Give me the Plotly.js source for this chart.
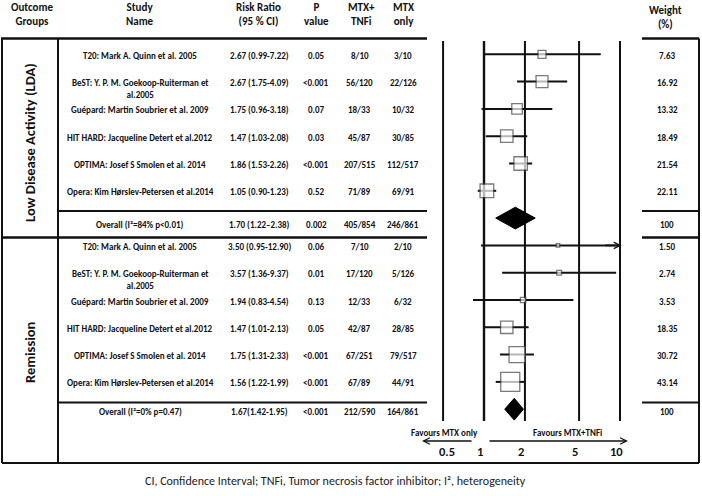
<!DOCTYPE html>
<html><head><meta charset="utf-8">
<script src="https://cdn.plot.ly/plotly-3.0.1.min.js"></script>
<style>html,body{margin:0;padding:0;background:#fff}#chart{width:702px;height:496px}</style>
</head><body><div id="chart"></div>
<script>
// ---------------- DATA ----------------
const groupNames = ["Low Disease Activity (LDA)", "Remission"];
const studyNames = [
  "T20: Mark A. Quinn et al. 2005",
  "BeST: Y. P. M. Goekoop-Ruiterman et<br>al.2005",
  "Guépard: Martin Soubrier et al. 2009",
  "HIT HARD: Jacqueline Detert et al.2012",
  "OPTIMA: Josef S Smolen et al. 2014",
  "Opera: Kim Hørslev-Petersen et al.2014"
];
// Low disease activity
const ldaRR = [2.67, 2.67, 1.75, 1.47, 1.86, 1.05];
const ldaLo = [0.99, 1.75, 0.96, 1.03, 1.53, 0.90];
const ldaHi = [7.22, 4.09, 3.18, 2.08, 2.26, 1.23];
const ldaRRText = ["2.67 (0.99-7.22)", "2.67 (1.75-4.09)", "1.75 (0.96-3.18)", "1.47 (1.03-2.08)", "1.86 (1.53-2.26)", "1.05 (0.90-1.23)"];
const ldaP = ["0.05", "&lt;0.001", "0.07", "0.03", "&lt;0.001", "0.52"];
const ldaTNF = ["8/10", "56/120", "18/33", "45/87", "207/515", "71/89"];
const ldaMTX = ["3/10", "22/126", "10/32", "30/85", "112/517", "69/91"];
const ldaWeight = [7.63, 16.92, 13.32, 18.49, 21.54, 22.11];
// Remission
const remRR = [3.50, 3.57, 1.94, 1.47, 1.75, 1.56];
const remLo = [0.95, 1.36, 0.83, 1.01, 1.31, 1.22];
const remHi = [12.90, 9.37, 4.54, 2.13, 2.33, 1.99];
const remRRText = ["3.50 (0.95-12.90)", "3.57 (1.36-9.37)", "1.94 (0.83-4.54)", "1.47 (1.01-2.13)", "1.75 (1.31-2.33)", "1.56 (1.22-1.99)"];
const remP = ["0.06", "0.01", "0.13", "0.05", "&lt;0.001", "&lt;0.001"];
const remTNF = ["7/10", "17/120", "12/33", "42/87", "67/251", "67/89"];
const remMTX = ["2/10", "5/126", "6/32", "28/85", "79/517", "44/91"];
const remWeight = [1.50, 2.74, 3.53, 18.35, 30.72, 43.14];
// Overall (LDA, Remission)
const overallLabels = ["Overall (I²=84% p&lt;0.01)", "Overall (I²=0% p=0.47)"];
const overallRR = [1.70, 1.67];
const overallLo = [1.22, 1.42];
const overallHi = [2.38, 1.95];
const overallRRText = ["1.70 (1.22–2.38)", "1.67(1.42-1.95)"];
const overallP = ["0.002", "&lt;0.001"];
const overallTNF = ["405/854", "212/590"];
const overallMTX = ["246/861", "164/861"];
const overallWeight = ["100", "100"];
// Axis
const tickVals = [0.5, 1, 2, 5, 10];
const tickLabels = ["0.5", "1", "2", "5", "10"];
const headers = ["Outcome<br>Groups", "Study<br>Name", "Risk Ratio<br>(95 % CI)", "P<br>value", "MTX+<br>TNFi", "MTX<br>only"];
const weightHeader = "Weight<br>(%)";
const favourLeft = "Favours MTX only";
const favourRight = "Favours MTX+TNFi";
const caption = "CI, Confidence Interval; TNFi, Tumor necrosis factor inhibitor; I², heterogeneity";

// ---------------- LAYOUT HELPERS ----------------
const W = 702, H = 496;
const px = x => x / W;
const py = y => 1 - y / H;
const ROW0 = 54.3, ROWH = 27.3;
const rowAt = p => (p - ROW0) / ROWH;
const X1 = 484, DEC = 136; // pixel of RR=1 and pixels per decade
const FONT = "Carlito, Lato, 'Open Sans', sans-serif";
const INK = '#111';
const bodyFont = {family: FONT, size: 9, color: INK, weight: 700};
const headFont = {family: FONT, size: 11, color: INK, weight: 700};

const groups = [
  {rr: ldaRR, lo: ldaLo, hi: ldaHi, rrText: ldaRRText, p: ldaP, tnf: ldaTNF, mtx: ldaMTX, w: ldaWeight},
  {rr: remRR, lo: remLo, hi: remHi, rrText: remRRText, p: remP, tnf: remTNF, mtx: remMTX, w: remWeight}
];
const colX = {study: 140, rr: 259, p: 316, tnf: 360, mtx: 403, weight: 667};
const xMax = tickVals[tickVals.length - 1];

const traces = [];
const annotations = [];
const shapes = [];

// reference vertical lines
tickVals.forEach(t => {
  traces.push({x: [t, t], y: [rowAt(41), rowAt(421)], mode: 'lines', type: 'scatter',
    line: {color: INK, width: t === 1 ? 2.4 : 2}, hoverinfo: 'skip'});
});

function textAnn(text, xp, row, font, extra) {
  annotations.push(Object.assign({text: text, xref: 'paper', x: px(xp), yref: 'y', y: row,
    showarrow: false, xanchor: 'center', yanchor: 'middle', font: font}, extra || {}));
}

groups.forEach((g, gi) => {
  const base = gi * 7;
  const boxX = [], boxY = [], boxS = [];
  g.rr.forEach((v, i) => {
    const r = base + i;
    const hiShown = Math.min(g.hi[i], xMax);
    traces.push({x: [g.lo[i], hiShown], y: [r, r], mode: 'lines', type: 'scatter',
      line: {color: INK, width: 2}, hoverinfo: 'skip'});
    if (g.hi[i] > xMax) {
      annotations.push({xref: 'x', yref: 'y', x: Math.log10(xMax) + 0.012, y: r, ax: -18, ay: 0,
        showarrow: true, arrowhead: 5, arrowsize: 0.8, arrowwidth: 1.6, arrowcolor: INK, text: ''});
    }
    boxX.push(v); boxY.push(r); boxS.push(Math.max(3, 2.9 * Math.sqrt(g.w[i])));
    const nm = studyNames[i];
    if (nm.indexOf('<br>') >= 0) {
      textAnn(nm, colX.study, r, bodyFont, {yanchor: 'top', yshift: 7});
    } else {
      textAnn(nm, colX.study, r, bodyFont, {yshift: -1});
    }
    textAnn(g.rrText[i], colX.rr, r, bodyFont, {yshift: -1});
    textAnn(g.p[i], colX.p, r, bodyFont, {yshift: -1});
    textAnn(g.tnf[i], colX.tnf, r, bodyFont, {yshift: -1});
    textAnn(g.mtx[i], colX.mtx, r, bodyFont, {yshift: -1});
    textAnn(g.w[i].toFixed(2), colX.weight, r, bodyFont, {yshift: -1});
  });
  traces.push({x: boxX, y: boxY, mode: 'markers', type: 'scatter', hoverinfo: 'skip',
    marker: {symbol: 'square', size: boxS, color: '#fff', line: {color: '#444', width: 1.3}}});
  // overall diamond
  const ro = base + 6, h = 0.4;
  traces.push({x: [overallLo[gi], overallRR[gi], overallHi[gi], overallRR[gi], overallLo[gi]],
    y: [ro, ro - h, ro, ro + h, ro], mode: 'lines', type: 'scatter', fill: 'toself',
    fillcolor: '#000', line: {color: '#000', width: 1}, hoverinfo: 'skip'});
  const ys = gi === 0 ? -6 : -2.5;
  textAnn(overallLabels[gi], colX.study, ro, bodyFont, {yshift: ys});
  textAnn(overallRRText[gi], colX.rr, ro, bodyFont, {yshift: ys});
  textAnn(overallP[gi], colX.p, ro, bodyFont, {yshift: ys});
  textAnn(overallTNF[gi], colX.tnf, ro, bodyFont, {yshift: ys});
  textAnn(overallMTX[gi], colX.mtx, ro, bodyFont, {yshift: ys});
  textAnn(overallWeight[gi], colX.weight, ro, bodyFont, {yshift: ys});
});

// group labels
const grpCenters = [143, 352];
groupNames.forEach((n, i) => {
  annotations.push({text: n, xref: 'paper', yref: 'paper', x: px(30), y: py(grpCenters[i]),
    textangle: -90, showarrow: false, xanchor: 'center', yanchor: 'middle',
    font: {family: FONT, size: 14.5, color: INK, weight: 700}});
});

// headers
const headX = [32, 140, 258, 316, 361, 404];
headers.forEach((t, i) => {
  annotations.push({text: t, xref: 'paper', yref: 'paper', x: px(headX[i]), y: py(14.5),
    showarrow: false, xanchor: 'center', yanchor: 'middle', font: headFont});
});
annotations.push({text: weightHeader, xref: 'paper', yref: 'paper', x: px(665), y: py(17.5),
  showarrow: false, xanchor: 'center', yanchor: 'middle', font: headFont});

// tick labels
tickVals.forEach((t, i) => {
  annotations.push({text: tickLabels[i], xref: 'x', x: Math.log10(t), yref: 'paper', y: py(451),
    xshift: t < 1 ? 4 : -4, showarrow: false, xanchor: 'center', yanchor: 'middle',
    font: {family: FONT, size: 12.5, color: INK, weight: 700}});
});
// favours
annotations.push({text: favourLeft, xref: 'paper', yref: 'paper', x: px(444), y: py(432),
  showarrow: false, xanchor: 'center', yanchor: 'middle', font: {family: FONT, size: 9, color: INK, weight: 700}});
annotations.push({text: favourRight, xref: 'paper', yref: 'paper', x: px(567), y: py(432),
  showarrow: false, xanchor: 'center', yanchor: 'middle', font: {family: FONT, size: 9, color: INK, weight: 700}});
annotations.push({text: '', xref: 'paper', yref: 'paper', x: px(422), y: py(441), ax: 51, ay: 0,
  showarrow: true, arrowhead: 5, arrowsize: 0.8, arrowwidth: 1.6, arrowcolor: INK});
annotations.push({text: '', xref: 'paper', yref: 'paper', x: px(628), y: py(441), ax: -140, ay: 0,
  showarrow: true, arrowhead: 5, arrowsize: 0.8, arrowwidth: 1.6, arrowcolor: INK});
// caption
annotations.push({text: caption, xref: 'paper', yref: 'paper', x: px(335), y: py(481),
  showarrow: false, xanchor: 'center', yanchor: 'middle', font: {family: FONT, size: 12, color: '#222'}});

// table rules
function hline(y, x0, x1, w) {
  shapes.push({type: 'line', xref: 'paper', yref: 'paper', x0: px(x0), x1: px(x1), y0: py(y), y1: py(y),
    line: {color: INK, width: w || 2}});
}
function vline(x, y0, y1, w) {
  shapes.push({type: 'line', xref: 'paper', yref: 'paper', x0: px(x), x1: px(x), y0: py(y0), y1: py(y1),
    line: {color: INK, width: w || 2}});
}
const TOP = 38.5, BOT = 463, TR = 427, WL = 642, RB = 699;
hline(TOP, 1, TR, 2.4); hline(TOP, WL, RB, 2.4);
vline(2, TOP, BOT); vline(58, TOP, BOT); vline(RB, TOP, BOT);
hline(BOT, 2, RB);
hline(211, 58, TR); hline(211, WL, RB);
hline(237.5, 2, TR, 2.4); hline(237.5, WL, RB, 2.4);
hline(402.5, 58, TR); hline(402.5, WL, RB);

const layout = {
  width: W, height: H, margin: {l: 0, r: 0, t: 0, b: 0},
  paper_bgcolor: '#fff', plot_bgcolor: 'rgba(0,0,0,0)', showlegend: false,
  xaxis: {type: 'log', domain: [px(420), px(640)], range: [(420 - X1) / DEC, (640 - X1) / DEC],
    visible: false, fixedrange: true},
  yaxis: {domain: [0, 1], range: [rowAt(H), rowAt(0)], visible: false, fixedrange: true},
  annotations: annotations, shapes: shapes
};
Plotly.newPlot('chart', traces, layout, {staticPlot: true, displayModeBar: false});
</script></body></html>
